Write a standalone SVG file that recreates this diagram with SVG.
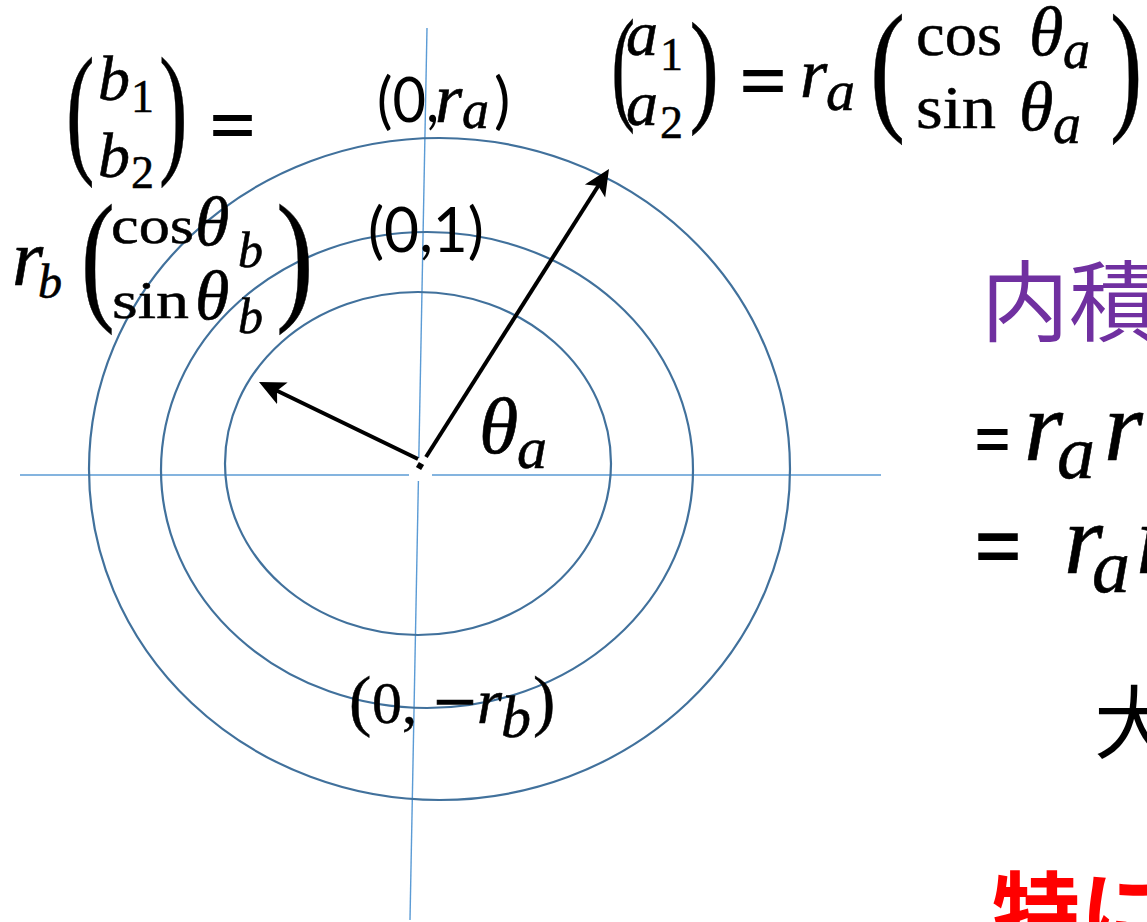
<svg xmlns="http://www.w3.org/2000/svg" width="1147" height="922" viewBox="0 0 1147 922">
<style>
.mi{font-family:"Liberation Serif",serif;font-style:italic;fill:#000;stroke:#000;stroke-width:0.6}
.mn{font-family:"Liberation Serif",serif;fill:#000;stroke:#000;stroke-width:0.5}
.eq{font-family:"Liberation Sans",sans-serif;font-weight:bold;fill:#000}
.sans{font-family:Lato,"Liberation Sans",sans-serif;fill:#000}
.cjk{font-family:"Noto Sans CJK JP","Noto Sans CJK SC",sans-serif}
.ell{fill:none;stroke:#41719C;stroke-width:2.2}
.axis{fill:none;stroke:#5B9BD5;stroke-width:1.4}
.vec{fill:none;stroke:#000;stroke-width:4}
</style>
<defs>
<marker id="ah" viewBox="0 0 26 26" markerUnits="userSpaceOnUse" markerWidth="26" markerHeight="26" refX="18" refY="13" orient="auto">
<path d="M0,1 L26,13 L0,25 L6,13 z" fill="#000"/>
</marker>
</defs>
<rect width="1147" height="922" fill="#fff"/>
<g id="axes">
<line class="axis" x1="20" y1="475" x2="409" y2="475"/>
<line class="axis" x1="432" y1="475" x2="881" y2="475"/>
<line class="axis" x1="427" y1="28" x2="418.8" y2="458"/>
<line class="axis" x1="418.4" y1="481" x2="410" y2="920"/>
</g>
<g id="circle-outer"><ellipse class="ell" cx="439.5" cy="469" rx="350.5" ry="331"/></g>
<g id="circle-mid"><ellipse class="ell" cx="427" cy="470" rx="266" ry="238"/></g>
<g id="circle-inner"><ellipse class="ell" cx="418" cy="463.5" rx="193" ry="171.5"/></g>
<g id="connectors">
<line class="vec" x1="426" y1="457" x2="604.7" y2="175.8" marker-end="url(#ah)"/>
<line class="vec" x1="418" y1="459" x2="266.2" y2="385.5" marker-end="url(#ah)"/>
<rect x="417" y="463" width="6" height="6" transform="rotate(30 420 466)" fill="#000"/>
</g>
<g id="label-b">
<text class="mn" transform="translate(66,157) scale(0.6,1)" font-size="143">(</text>
<text class="mi" x="98" y="100" font-size="64">b</text>
<text class="mn" x="131" y="112" font-size="46">1</text>
<text class="mi" x="98" y="177" font-size="64">b</text>
<text class="mn" x="131" y="188" font-size="46">2</text>
<text class="mn" transform="translate(159,157) scale(0.6,1)" font-size="143">)</text>
<text class="eq" x="210" y="143.5" font-size="56" textLength="45" lengthAdjust="spacingAndGlyphs">=</text>
<text class="mi" x="12" y="285" font-size="80">r</text>
<text class="mi" x="38" y="298" font-size="48">b</text>
<text class="mn" transform="translate(81,304) scale(0.7,1)" font-size="145">(</text>
<text class="mn" x="111" y="243" font-size="52" textLength="83" lengthAdjust="spacingAndGlyphs">cos</text>
<text class="mi" x="195" y="245" font-size="70">θ</text>
<text class="mi" x="238" y="267" font-size="50">b</text>
<text class="mn" x="112" y="318" font-size="52" textLength="77" lengthAdjust="spacingAndGlyphs">sin</text>
<text class="mi" x="195" y="319" font-size="70">θ</text>
<text class="mi" x="238" y="333" font-size="50">b</text>
<text class="mn" transform="translate(276,304) scale(0.78,1)" font-size="145">)</text>
</g>
<g id="label-a">
<text class="mn" transform="translate(611.6,107) scale(0.56,1)" font-size="126">(</text>
<text class="mi" x="626" y="55" font-size="64">a</text>
<text class="mn" x="660" y="70" font-size="46">1</text>
<text class="mi" x="626" y="125" font-size="64">a</text>
<text class="mn" x="660" y="138" font-size="46">2</text>
<text class="mn" transform="translate(689.4,109) scale(0.7,1)" font-size="126">)</text>
<text class="eq" x="740" y="99.5" font-size="58" textLength="46" lengthAdjust="spacingAndGlyphs">=</text>
<text class="mi" x="800" y="97" font-size="70">r</text>
<text class="mi" x="826" y="110" font-size="58">a</text>
<text class="mn" transform="translate(870,114) scale(0.74,1)" font-size="143">(</text>
<text class="mn" x="916" y="55" font-size="62" textLength="86" lengthAdjust="spacingAndGlyphs">cos</text>
<text class="mi" x="1029" y="55" font-size="70">θ</text>
<text class="mi" x="1063" y="68" font-size="54">a</text>
<text class="mn" x="916" y="128" font-size="62" textLength="80" lengthAdjust="spacingAndGlyphs">sin</text>
<text class="mi" x="1019" y="130" font-size="70">θ</text>
<text class="mi" x="1053" y="143" font-size="56">a</text>
<text class="mn" transform="translate(1110,114) scale(0.68,1)" font-size="143">)</text>
</g>
<g id="label-ra">
<text class="sans" x="377" y="122" font-size="61" textLength="62" lengthAdjust="spacingAndGlyphs">(0,</text>
<text class="mi" x="435" y="122" font-size="70">r</text>
<text class="mi" x="462" y="128" font-size="54">a</text>
<text class="sans" x="494" y="122" font-size="61">)</text>
</g>
<g id="label-one">
<text class="sans" x="368" y="252" font-size="61" textLength="116" lengthAdjust="spacingAndGlyphs">(0,1)</text>
</g>
<g id="label-theta">
<text class="mi" x="479" y="453" font-size="80">θ</text>
<text class="mi" x="517" y="468" font-size="60">a</text>
</g>
<g id="label-rb">
<text class="mn" x="349" y="723" font-size="67">(</text>
<text class="mn" x="372" y="723" font-size="60">0,</text>
<text class="mn" x="433" y="723" font-size="62" font-weight="bold" textLength="44" lengthAdjust="spacingAndGlyphs">−</text>
<text class="mi" x="477" y="723" font-size="64">r</text>
<text class="mi" x="501" y="737" font-size="60">b</text>
<text class="mn" x="533" y="723" font-size="67">)</text>
</g>
<g id="right-text">
<text class="cjk" x="981" y="334" font-size="88" fill="#7030A0">内積</text>
<text class="eq" x="975" y="458" font-size="56" textLength="35" lengthAdjust="spacingAndGlyphs">=</text>
<text class="mi" x="1024" y="460" font-size="100">r</text>
<text class="mi" x="1057" y="478" font-size="76">a</text>
<text class="mi" x="1104" y="460" font-size="100">r</text>
<text class="eq" x="975" y="570" font-size="70" textLength="46" lengthAdjust="spacingAndGlyphs">=</text>
<text class="mi" x="1064" y="573" font-size="100">r</text>
<text class="mi" x="1092" y="592" font-size="76">a</text>
<text class="mi" x="1136" y="573" font-size="100">r</text>
<text class="cjk" x="1094" y="752" font-size="80" fill="#000">大</text>
<text class="cjk" x="992" y="945" font-size="88" font-weight="bold" fill="#FF0000">特に</text>
</g>
</svg>
